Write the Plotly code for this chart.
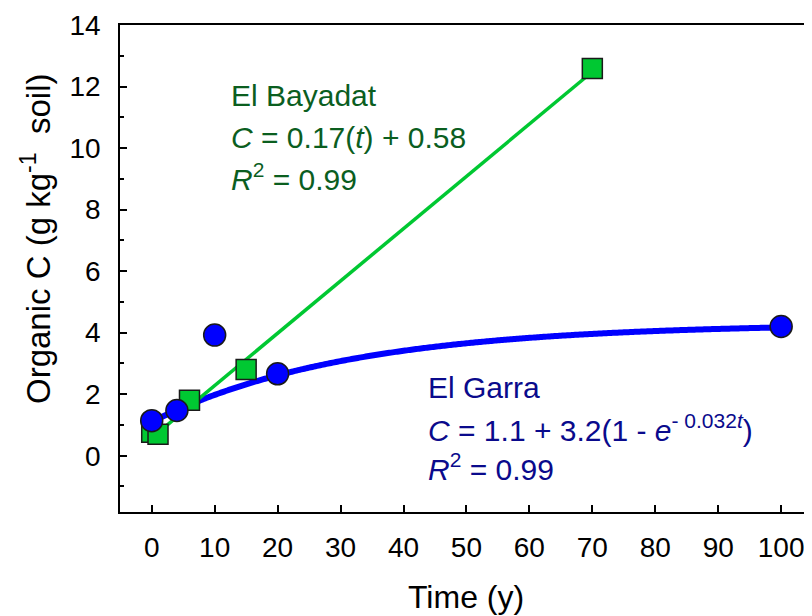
import numpy as np
import plotly.graph_objects as go

# ---- data ----
garra_t = [0, 4, 10, 20, 100]
garra_c = [1.14, 1.47, 3.92, 2.66, 4.20]
bayadat_t = [0, 1, 6, 15, 70]
bayadat_c = [0.76, 0.70, 1.80, 2.80, 12.59]

# fitted models (as printed on the chart)
bay_slope, bay_int = 0.17, 0.58
gar_c0, gar_a, gar_k = 1.1, 3.2, 0.032

x_ticks = [0, 10, 20, 30, 40, 50, 60, 70, 80, 90, 100]
y_ticks = [0, 2, 4, 6, 8, 10, 12, 14]

fit_bay_t = np.array([0, 70])
fit_bay_c = bay_slope * fit_bay_t + bay_int
fit_gar_t = np.linspace(0, 100, 401)
fit_gar_c = gar_c0 + gar_a * (1 - np.exp(-gar_k * fit_gar_t))

OFF = 8  # page body margin
W, H = 804, 608
ML, MR, MT, MB = 112, 0, 17, 104
PW, PH = W - ML - MR, H - MT - MB

def px(xp):
    return (xp - OFF - ML) / PW

def py(yp):
    return (H - MB - (yp - OFF)) / PH

GREEN = "#00c832"
GREEN_TXT = "#0b5e1f"
BLUE = "#0000ff"
BLUE_TXT = "#0a0a8c"
FONT = "Liberation Sans, Arial, sans-serif"

fig = go.Figure()
fig.add_trace(go.Scatter(x=fit_gar_t, y=fit_gar_c, mode="lines",
                         line=dict(color=BLUE, width=6, simplify=False), showlegend=False))
fig.add_trace(go.Scatter(x=fit_bay_t, y=fit_bay_c, mode="lines",
                         line=dict(color=GREEN, width=3.5), showlegend=False))
fig.add_trace(go.Scatter(x=bayadat_t, y=bayadat_c, mode="markers",
                         marker=dict(symbol="square", size=20, color=GREEN,
                                     line=dict(color="#1a1a1a", width=1.5)),
                         showlegend=False))
fig.add_trace(go.Scatter(x=garra_t, y=garra_c, mode="markers",
                         marker=dict(symbol="circle", size=22, color=BLUE,
                                     line=dict(color="#1a1a1a", width=1.5)),
                         showlegend=False))

ann_font = 30
anns = [
    ("El Bayadat", 229, 95, GREEN_TXT),
    ("<i>C</i> = 0.17(<i>t</i>) + 0.58", 229, 137, GREEN_TXT),
    ("<i>R</i><sup>2</sup> = 0.99", 229, 177, GREEN_TXT),
    ("El Garra", 426, 387, BLUE_TXT),
    ("<i>C</i> = 1.1 + 3.2(1 - <i>e</i><sup>- 0.032<i>t</i></sup>)", 426, 428, BLUE_TXT),
    ("<i>R</i><sup>2</sup> = 0.99", 426, 467, BLUE_TXT),
]
for txt, xp, yp, col in anns:
    fig.add_annotation(text=txt, x=px(xp), y=py(yp), xref="paper", yref="paper",
                       xanchor="left", yanchor="middle", showarrow=False,
                       font=dict(family=FONT, size=ann_font, color=col))

fig.add_annotation(text="Organic C (g kg<sup>-1</sup>  soil)", x=px(36), y=py(239),
                   xref="paper", yref="paper", xanchor="center", yanchor="middle",
                   textangle=-90, showarrow=False,
                   font=dict(family=FONT, size=33, color="black"))
fig.add_annotation(text="Time (y)", x=px(466), y=py(597),
                   xref="paper", yref="paper", xanchor="center", yanchor="middle",
                   showarrow=False, font=dict(family=FONT, size=32, color="black"))

fig.update_layout(
    width=W, height=H,
    margin=dict(l=ML, r=MR, t=MT, b=MB),
    plot_bgcolor="white", paper_bgcolor="white",
    font=dict(family=FONT, color="black"),
    xaxis=dict(range=[-5.04, 104.9], tickvals=x_ticks, ticks="inside", ticklen=7,
               tickwidth=1.5, tickcolor="black", showline=True, linecolor="black",
               linewidth=1.5, mirror=True, showgrid=False, zeroline=False,
               tickfont=dict(size=28), ticklabelstandoff=10),
    yaxis=dict(range=[-1.83, 14], tickvals=y_ticks, ticks="inside", ticklen=7,
               tickwidth=1.5, tickcolor="black", showline=True, linecolor="black",
               linewidth=1.5, showgrid=False, zeroline=False,
               tickfont=dict(size=28), ticklabelstandoff=12,
               minor=dict(dtick=1, tick0=1, ticks="inside", ticklen=4, tickwidth=1.5,
                          tickcolor="black", showgrid=False)),
)

fig.write_html("out.html")
